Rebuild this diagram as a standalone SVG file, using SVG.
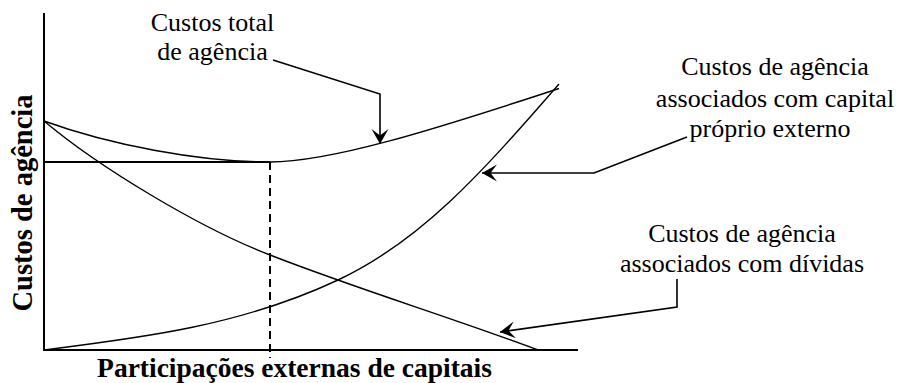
<svg xmlns="http://www.w3.org/2000/svg" width="907" height="383" viewBox="0 0 907 383">
  <style>
    .label { font-family: "Liberation Serif", "Times New Roman", serif; font-size: 26px; fill: #000; text-anchor: middle; }
    .axis-title { font-family: "Liberation Serif", "Times New Roman", serif; font-weight: bold; fill: #000; text-anchor: middle; }
    .axis { stroke: #000; stroke-width: 2; fill: none; }
    .curve { stroke: #000; stroke-width: 1.4; fill: none; }
    .leader { stroke: #000; stroke-width: 1.6; fill: none; }
  </style>
  <defs>
    <marker id="arrow" viewBox="-17 -10 18 20" refX="0" refY="0" markerWidth="18" markerHeight="20" markerUnits="userSpaceOnUse" orient="auto">
      <path d="M0,0 L-15,-8.5 L-8.5,0 L-15,8.5 Z" fill="#000"/>
    </marker>
  </defs>

  <rect width="907" height="383" fill="#fff"/>

  <!-- axes and reference lines -->
  <g id="axes">
    <line class="axis" x1="44" y1="13" x2="44" y2="350"/>
    <line class="axis" x1="43" y1="350" x2="578" y2="350" stroke="#222"/>
    <line class="axis" x1="44" y1="162" x2="270" y2="162"/>
    <line class="axis" x1="270" y1="162" x2="270" y2="358" stroke-dasharray="8 5"/>
  </g>

  <!-- cost curves -->
  <g id="curve-total">
    <path class="curve" d="M44,121 C110,145 200,162 270,162 C330,162 430,131 559,88.5"/>
  </g>
  <g id="curve-debt">
    <path class="curve" d="M44,121 C100,168 200,228 270,255 C360,290 450,317 538,350"/>
  </g>
  <g id="curve-equity">
    <path class="curve" d="M44,350 C140,338 240,326 338,280 C420,241.5 480,175 559,84"/>
  </g>

  <!-- axis titles -->
  <g id="axis-titles">
    <text class="axis-title" x="294.5" y="377" font-size="27.5">Participações externas de capitais</text>
    <text class="axis-title" transform="translate(32,203) rotate(-90)" x="0" y="0" font-size="28.5">Custos de agência</text>
  </g>

  <!-- callout labels -->
  <g id="label-total">
    <text class="label" x="212.5" y="30.5">Custos total</text>
    <text class="label" x="212.5" y="60">de agência</text>
  </g>
  <g id="label-equity">
    <text class="label" x="775" y="75">Custos de agência</text>
    <text class="label" x="775" y="106.5">associados com capital</text>
    <text class="label" x="770" y="136.5">próprio externo</text>
  </g>
  <g id="label-debt">
    <text class="label" x="742" y="242">Custos de agência</text>
    <text class="label" x="742" y="272">associados com dívidas</text>
  </g>

  <!-- leader arrows -->
  <g id="connectors">
    <polyline class="leader" points="273,60 380,94 380,144" marker-end="url(#arrow)"/>
    <polyline class="leader" points="687,137 594,173 482,173" marker-end="url(#arrow)"/>
    <polyline class="leader" points="677,279 677,307 500,332" marker-end="url(#arrow)"/>
  </g>
</svg>
